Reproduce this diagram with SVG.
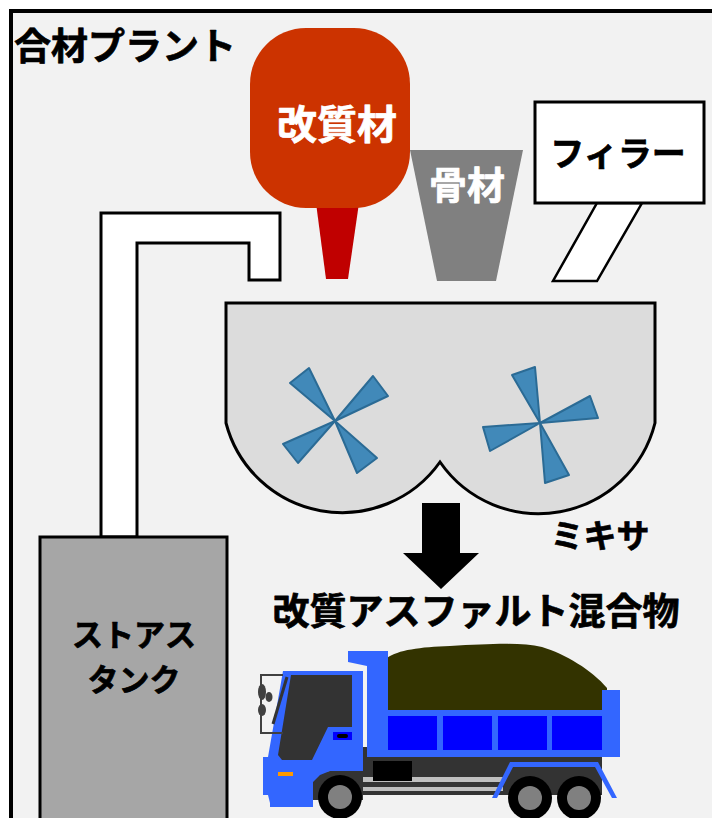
<svg xmlns="http://www.w3.org/2000/svg" width="712" height="818" viewBox="0 0 712 818">
  <style>
    .t { font-family: "Noto Sans CJK JP", "Noto Sans", sans-serif; font-weight: bold; stroke-width: 0.7; stroke-linejoin: round; }
    .dark { fill: #000; stroke: #000; }
    .light { fill: #fff; stroke: #fff; }
    .ln { stroke: #000; stroke-width: 3; stroke-linejoin: miter; }
    .blade { fill: #4189b9; stroke: #2b6b95; stroke-width: 2; stroke-linejoin: round; }
    .tb { fill: #3366ff; }
    .tp { fill: #0000ff; }
    .td { fill: #333333; }
  </style>

  <!-- plant frame -->
  <rect x="0" y="0" width="712" height="818" fill="#ffffff"/>
  <rect x="11" y="11" width="760" height="860" fill="#f2f2f2" stroke="#000" stroke-width="4"/>
  <text class="t dark" x="14" y="60" font-size="37">合材プラント</text>

  <!-- asphalt feed pipe -->
  <g id="pipe">
    <polygon class="ln" fill="#ffffff" points="101,537 101,213 280,213 280,280 249,280 249,243 137,243 137,537"/>
  </g>

  <!-- storage tank -->
  <g id="tank">
    <rect class="ln" x="40" y="537" width="187" height="300" fill="#a6a6a6"/>
    <text class="t dark" x="134" y="646" font-size="31" text-anchor="middle">ストアス</text>
    <text class="t dark" x="134" y="691" font-size="31" text-anchor="middle">タンク</text>
  </g>

  <!-- modifier hopper -->
  <g id="modifier">
    <polygon points="316,203 359,203 348,279 326,279" fill="#c00000"/>
    <rect x="250" y="28" width="160" height="180" rx="56" ry="56" fill="#cc3300"/>
    <text class="t light" x="337" y="139" font-size="40" text-anchor="middle">改質材</text>
  </g>

  <!-- aggregate hopper -->
  <g id="aggregate">
    <polygon points="410,150 523,150 496,281 437,281" fill="#808080"/>
    <text class="t light" x="467" y="199" font-size="38" text-anchor="middle">骨材</text>
  </g>

  <!-- filler silo and chute -->
  <g id="filler">
    <polygon points="597,203 642,203 597,281 553,281" fill="#ffffff" stroke="#000" stroke-width="2.5"/>
    <rect class="ln" x="535" y="102" width="169" height="101" fill="#ffffff"/>
    <text class="t dark" x="618" y="166" font-size="34" text-anchor="middle">フィラー</text>
  </g>

  <!-- twin-shaft mixer -->
  <g id="mixer">
    <path class="ln" fill="#dcdcdc" d="M226,423 L226,303 L655,303 L655,423 A120,120 0 0 1 440,462 A120,120 0 0 1 226,423 Z"/>
    <g>
      <polygon class="blade" points="335,421 290,383 309,368"/>
      <polygon class="blade" points="335,421 373,376 388,396"/>
      <polygon class="blade" points="335,421 283,444 298,463"/>
      <polygon class="blade" points="335,421 357,473 377,458"/>
    </g>
    <g>
      <polygon class="blade" points="540,423 512,375 535,367"/>
      <polygon class="blade" points="540,423 590,396 598,418"/>
      <polygon class="blade" points="540,423 483,427 490,451"/>
      <polygon class="blade" points="540,423 545,483 569,475"/>
    </g>
    <text class="t dark" x="600" y="548" font-size="33" text-anchor="middle">ミキサ</text>
  </g>

  <!-- discharge arrow -->
  <g id="connectors">
    <polygon fill="#000" points="422,503 460,503 460,553 479,553 441,589 403,553 422,553"/>
  </g>

  <g id="product">
    <text class="t dark" x="476" y="625" font-size="37" text-anchor="middle">改質アスファルト混合物</text>
  </g>

  <!-- dump truck -->
  <g id="truck">
    <!-- chassis -->
    <rect class="td" x="363" y="747" width="239" height="48"/>
    <rect x="340" y="777" width="163" height="5" fill="#bfbfbf"/>
    <rect x="340" y="787" width="163" height="4" fill="#bfbfbf"/>
    <rect x="373" y="761" width="39" height="20" fill="#000"/>
    <!-- load -->
    <path fill="#333300" d="M387,712 L387,658 C398,650 420,647 450,646 C490,644 520,642 542,647 C565,654 592,670 607,688 L607,712 Z"/>
    <!-- dump body -->
    <polygon class="tb" points="348,651 388,651 388,710 602,710 602,690 620,690 620,757 367,757 367,666 348,662"/>
    <rect class="tp" x="388" y="716" width="49" height="34"/>
    <rect class="tp" x="443" y="716" width="49" height="34"/>
    <rect class="tp" x="498" y="716" width="49" height="34"/>
    <rect class="tp" x="552" y="716" width="50" height="34"/>
    <!-- rear fender -->
    <polygon class="tb" points="492,798 510,762 598,762 617,798 612,798 595,767 513,767 497,798"/>
    <!-- cab -->
    <path class="td" d="M313,800 L313,778 Q320,771 330,771 L363,771 L363,800 Z"/>
    <polygon class="tb" points="283,671 363,671 363,771 330,771 320,775 313,782 313,807 270,807 270,803 268,795 263,795 263,757 268,757"/>
    <polygon class="td" points="291,675 352,675 352,727 328,727 312,760 282,760 278,755"/>
    <line x1="287" y1="677" x2="273" y2="724" stroke="#333333" stroke-width="3"/>
    <polyline points="283,675 261,675 261,733 283,733" fill="none" stroke="#404040" stroke-width="2"/>
    <ellipse cx="262" cy="692" rx="4" ry="8" fill="#404040"/>
    <ellipse cx="269" cy="697" rx="3.5" ry="5" fill="#404040"/>
    <ellipse cx="262" cy="710" rx="4" ry="6" fill="#404040"/>
    <rect class="tp" x="333" y="732" width="19" height="8"/>
    <rect x="337" y="734" width="11" height="4" rx="2" fill="#000"/>
    <rect x="278" y="772" width="15" height="4" fill="#ff9900"/>
    <!-- wheels -->
    <circle cx="340" cy="797" r="22" fill="#000"/>
    <circle cx="340" cy="797" r="12" fill="#808080"/>
    <circle cx="530" cy="798" r="22" fill="#000"/>
    <circle cx="530" cy="798" r="12" fill="#808080"/>
    <circle cx="579" cy="798" r="22" fill="#000"/>
    <circle cx="579" cy="798" r="12" fill="#808080"/>
  </g>
</svg>
